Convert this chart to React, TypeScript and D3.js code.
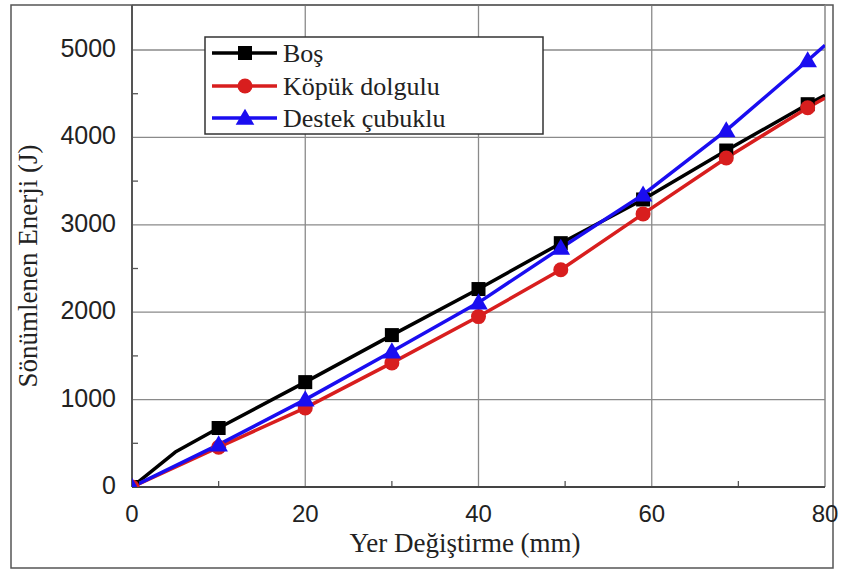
import React from "react";
import * as d3 from "d3";

const xTicks = [0, 20, 40, 60, 80];
const xMinorTicks = [10, 30, 50, 70];
const yTicks = [0, 1000, 2000, 3000, 4000, 5000];
const yMinorTicks = [500, 1500, 2500, 3500, 4500];

const seriesNames = ["Boş", "Köpük dolgulu", "Destek çubuklu"];
const seriesColors = ["#000000", "#d81e1e", "#1a0df0"];
const seriesMarkers = ["square", "circle", "triangle"];

// Boş (black): includes unmarked vertices at 5 and 80
const bosX = [0, 5, 10, 20, 30, 40, 49.5, 59, 68.6, 78, 80];
const bosY = [0, 400, 675, 1200, 1738, 2265, 2790, 3290, 3850, 4380, 4483];
const bosMarked = [true, false, true, true, true, true, true, true, true, true, false];

const kopukX = [0, 10, 20, 30, 40, 49.5, 59, 68.6, 78, 80];
const kopukY = [0, 455, 905, 1420, 1950, 2485, 3125, 3765, 4340, 4450];
const kopukMarked = [true, true, true, true, true, true, true, true, true, false];

const destekX = [0, 10, 20, 30, 40, 49.5, 59, 68.6, 78, 80];
const destekY = [0, 485, 1000, 1550, 2110, 2735, 3345, 4080, 4880, 5055];
const destekMarked = [true, true, true, true, true, true, true, true, true, false];

const xTitle = "Yer Değiştirme (mm)";
const yTitle = "Sönümlenen Enerji (J)";

const W = 842;
const H = 572;
const L = 132;
const R = 825;
const T = 5;
const B = 487;

function Marker({ type, x, y, color }: { type: string; x: number; y: number; color: string }) {
  if (type === "square") {
    const s = 14;
    return <rect x={x - s / 2} y={y - s / 2} width={s} height={s} fill={color} />;
  }
  if (type === "circle") {
    return <circle cx={x} cy={y} r={7.5} fill={color} />;
  }
  const path = d3.symbol(d3.symbolTriangle, 150)() as string;
  return <path d={path} transform={`translate(${x},${y + 1.5})`} fill={color} />;
}

export default function App() {
  const x = d3.scaleLinear().domain([0, 80]).range([L, R]);
  const y = d3.scaleLinear().domain([0, 5515]).range([B, T]);
  const line = d3
    .line<[number, number]>()
    .x((d) => x(d[0]))
    .y((d) => y(d[1]));

  const series = [
    { xs: bosX, ys: bosY, marked: bosMarked },
    { xs: kopukX, ys: kopukY, marked: kopukMarked },
    { xs: destekX, ys: destekY, marked: destekMarked },
  ];

  const sans = "'Liberation Sans', Arial, sans-serif";
  const serif = "'Liberation Serif', 'Times New Roman', serif";

  const legendX = 205;
  const legendY = 37;
  const legendW = 338;
  const legendH = 97;
  const legendRows = [53, 86, 118];

  return (
    <svg
      width={W}
      height={H}
      style={{ position: "absolute", left: 0, top: 0, background: "#fff" }}
    >
      <defs>
        <clipPath id="plotclip">
          <rect x={L} y={T} width={R - L} height={B - T} />
        </clipPath>
      </defs>
      {/* outer frame */}
      <rect x={11} y={5} width={822} height={563} fill="none" stroke="#555" strokeWidth={1.5} />

      {/* grid */}
      {xTicks.slice(1, -1).map((t) => (
        <line key={"gx" + t} x1={x(t)} x2={x(t)} y1={T} y2={B} stroke="#8a8a8a" strokeWidth={1.3} />
      ))}
      {yTicks.slice(1).map((t) => (
        <line key={"gy" + t} x1={L} x2={R} y1={y(t)} y2={y(t)} stroke="#8a8a8a" strokeWidth={1.3} />
      ))}

      {/* minor ticks */}
      {xMinorTicks.map((t) => (
        <line key={"mx" + t} x1={x(t)} x2={x(t)} y1={B} y2={B - 6} stroke="#555" strokeWidth={1.3} />
      ))}
      {yMinorTicks.map((t) => (
        <line key={"my" + t} x1={L} x2={L + 6} y1={y(t)} y2={y(t)} stroke="#555" strokeWidth={1.3} />
      ))}

      {/* plot borders */}
      <line x1={L} x2={R} y1={T} y2={T} stroke="#666" strokeWidth={1.5} />
      <line x1={R} x2={R} y1={T} y2={B} stroke="#888" strokeWidth={1.5} />
      <line x1={L} x2={L} y1={T} y2={B} stroke="#555" strokeWidth={2} />
      <line x1={L} x2={R} y1={B} y2={B} stroke="#444" strokeWidth={2.2} />

      {/* tick labels */}
      {yTicks.map((t) => (
        <text
          key={"ly" + t}
          x={116}
          y={y(t) - 2}
          textAnchor="end"
          dominantBaseline="central"
          fontFamily={sans}
          fontSize={25}
          fill="#222"
        >
          {t}
        </text>
      ))}
      {xTicks.map((t) => (
        <text
          key={"lx" + t}
          x={x(t)}
          y={513}
          textAnchor="middle"
          dominantBaseline="central"
          fontFamily={sans}
          fontSize={24}
          fill="#222"
        >
          {t}
        </text>
      ))}

      {/* axis titles */}
      <text x={465} y={552} textAnchor="middle" fontFamily={serif} fontSize={27} fill="#222">
        {xTitle}
      </text>
      <text
        transform={`translate(28,266) rotate(-90)`}
        textAnchor="middle"
        dominantBaseline="central"
        fontFamily={serif}
        fontSize={27}
        fill="#222"
      >
        {yTitle}
      </text>

      {/* series */}
      <g clipPath="url(#plotclip)">
        {series.map((s, i) => {
          const pts = s.xs.map((v, j) => [v, s.ys[j]] as [number, number]);
          return (
            <path
              key={"line" + i}
              d={line(pts) as string}
              fill="none"
              stroke={seriesColors[i]}
              strokeWidth={3.5}
              strokeLinejoin="round"
            />
          );
        })}
        {series.map((s, i) =>
          s.xs.map((v, j) =>
            s.marked[j] ? (
              <Marker
                key={"m" + i + "-" + j}
                type={seriesMarkers[i]}
                x={x(v)}
                y={y(s.ys[j])}
                color={seriesColors[i]}
              />
            ) : null
          )
        )}
      </g>

      {/* legend */}
      <rect
        x={legendX}
        y={legendY}
        width={legendW}
        height={legendH}
        fill="#fff"
        stroke="#333"
        strokeWidth={1.5}
      />
      {seriesNames.map((name, i) => (
        <g key={"leg" + i}>
          <line
            x1={212}
            x2={277}
            y1={legendRows[i]}
            y2={legendRows[i]}
            stroke={seriesColors[i]}
            strokeWidth={3.5}
          />
          <Marker type={seriesMarkers[i]} x={245} y={legendRows[i]} color={seriesColors[i]} />
          <text
            x={283}
            y={legendRows[i]}
            dominantBaseline="central"
            fontFamily={serif}
            fontSize={26}
            fill="#222"
          >
            {name}
          </text>
        </g>
      ))}
    </svg>
  );
}
